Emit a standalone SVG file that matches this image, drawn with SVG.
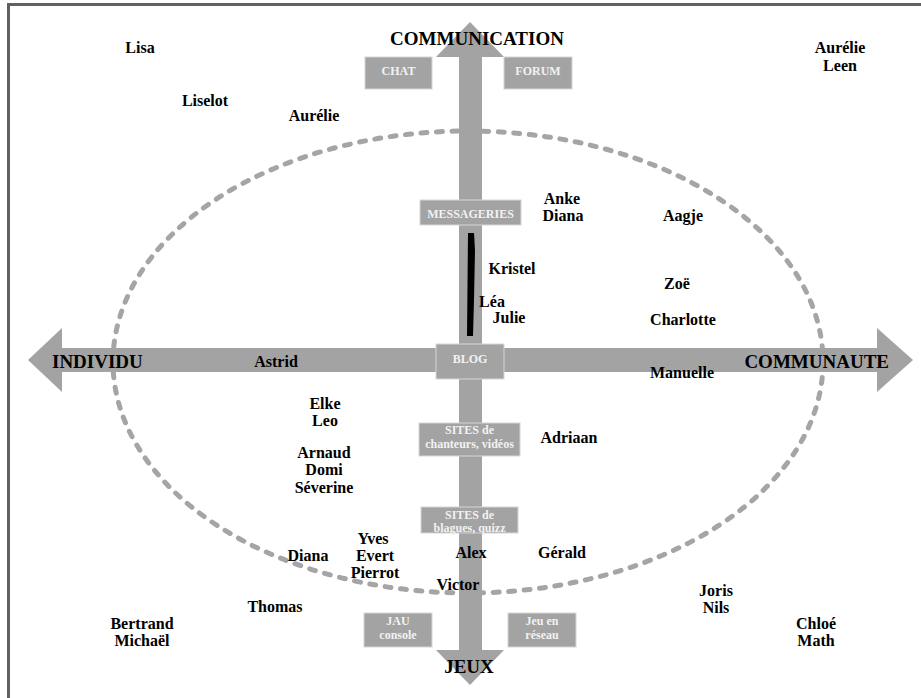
<svg xmlns="http://www.w3.org/2000/svg" width="921" height="698" viewBox="0 0 921 698">
<style>
.frame{fill:none;stroke:#616161;stroke-width:3}
.axis{fill:#a3a3a3;stroke:none}
.ring{fill:none;stroke:#a5a5a5;stroke-width:5;stroke-linecap:round;stroke-dasharray:6 9.5}
.box{fill:#a3a3a3;stroke:#d6d6d6;stroke-width:1}
.bt{font-family:"Liberation Serif","Times New Roman",serif;font-weight:bold;font-size:12px;fill:#f2f2f2;text-anchor:middle}
.ax{font-family:"Liberation Serif","Times New Roman",serif;font-weight:bold;font-size:19px;fill:#000}
.nm{font-family:"Liberation Serif","Times New Roman",serif;font-weight:bold;font-size:16px;fill:#000;text-anchor:middle}
</style>
<rect x="0" y="0" width="921" height="698" fill="#fff"/>
<rect class="frame" x="8.5" y="4.5" width="1000" height="1000"/>
<g id="ellipse">
<ellipse class="ring" cx="468" cy="362" rx="355" ry="231"/>
</g>
<g id="connectors">
<polygon id="axis-vertical" class="axis" points="470,22 504,57 482,57 482,650 504,650 470,685 436,650 459,650 459,57 436,57"/>
<polygon id="axis-horizontal" class="axis" points="28,360 62,328 62,348 877,348 877,328 913,360 877,392 877,372 62,372 62,392"/>
<polygon id="black-bar" fill="#000" points="468,233 474,233 475,250 474,300 473,336 467,336"/>
</g>
<g id="axis-labels">
<text class="ax" x="477" y="45" text-anchor="middle">COMMUNICATION</text>
<text class="ax" x="52" y="368">INDIVIDU</text>
<text class="ax" x="889" y="368" text-anchor="end">COMMUNAUTE</text>
<text class="ax" x="469" y="673" text-anchor="middle">JEUX</text>
</g>
<g id="chat"><rect class="box" x="365" y="57" width="67" height="32"/><text class="bt" x="398.5" y="75">CHAT</text></g>
<g id="forum"><rect class="box" x="504" y="57" width="68" height="32"/><text class="bt" x="538" y="75">FORUM</text></g>
<g id="messageries"><rect class="box" x="420" y="200" width="101" height="25"/><text class="bt" x="470.5" y="218">MESSAGERIES</text></g>
<g id="blog"><rect class="box" x="436" y="344" width="68" height="35"/><text class="bt" x="470" y="363">BLOG</text></g>
<g id="sites-chanteurs"><rect class="box" x="419" y="423" width="101" height="33"/><text class="bt" x="469.5" y="434">SITES de</text><text class="bt" x="469.5" y="448">chanteurs, vidéos</text></g>
<g id="sites-blagues"><rect class="box" x="421" y="507" width="97" height="26"/><text class="bt" x="469.5" y="519">SITES de</text><text class="bt" x="469.5" y="532">blagues, quizz</text></g>
<g id="jau-console"><rect class="box" x="364" y="613" width="68" height="34"/><text class="bt" x="398" y="625">JAU</text><text class="bt" x="398" y="639">console</text></g>
<g id="jeu-reseau"><rect class="box" x="508" y="613" width="68" height="34"/><text class="bt" x="542" y="625">Jeu en</text><text class="bt" x="542" y="639">réseau</text></g>
<g id="names">
<text class="nm" x="140" y="53">Lisa</text>
<text class="nm" x="205" y="106">Liselot</text>
<text class="nm" x="314" y="121">Aurélie</text>
<text class="nm" x="840" y="53">Aurélie</text>
<text class="nm" x="840" y="71">Leen</text>
<text class="nm" x="562" y="204">Anke</text>
<text class="nm" x="563" y="221">Diana</text>
<text class="nm" x="683" y="221">Aagje</text>
<text class="nm" x="512" y="274">Kristel</text>
<text class="nm" x="492" y="307">Léa</text>
<text class="nm" x="509" y="323">Julie</text>
<text class="nm" x="677" y="289">Zoë</text>
<text class="nm" x="683" y="325">Charlotte</text>
<text class="nm" x="276" y="367">Astrid</text>
<text class="nm" x="682" y="378">Manuelle</text>
<text class="nm" x="325" y="409">Elke</text>
<text class="nm" x="325" y="426">Leo</text>
<text class="nm" x="569" y="443">Adriaan</text>
<text class="nm" x="324" y="458">Arnaud</text>
<text class="nm" x="324" y="475">Domi</text>
<text class="nm" x="324" y="493">Séverine</text>
<text class="nm" x="373" y="544">Yves</text>
<text class="nm" x="375" y="561">Evert</text>
<text class="nm" x="375" y="578">Pierrot</text>
<text class="nm" x="308" y="561">Diana</text>
<text class="nm" x="471" y="558">Alex</text>
<text class="nm" x="562" y="558">Gérald</text>
<text class="nm" x="458" y="590">Victor</text>
<text class="nm" x="716" y="596">Joris</text>
<text class="nm" x="716" y="613">Nils</text>
<text class="nm" x="275" y="612">Thomas</text>
<text class="nm" x="142" y="629">Bertrand</text>
<text class="nm" x="142" y="646">Michaël</text>
<text class="nm" x="816" y="629">Chloé</text>
<text class="nm" x="816" y="646">Math</text>
</g>
</svg>
